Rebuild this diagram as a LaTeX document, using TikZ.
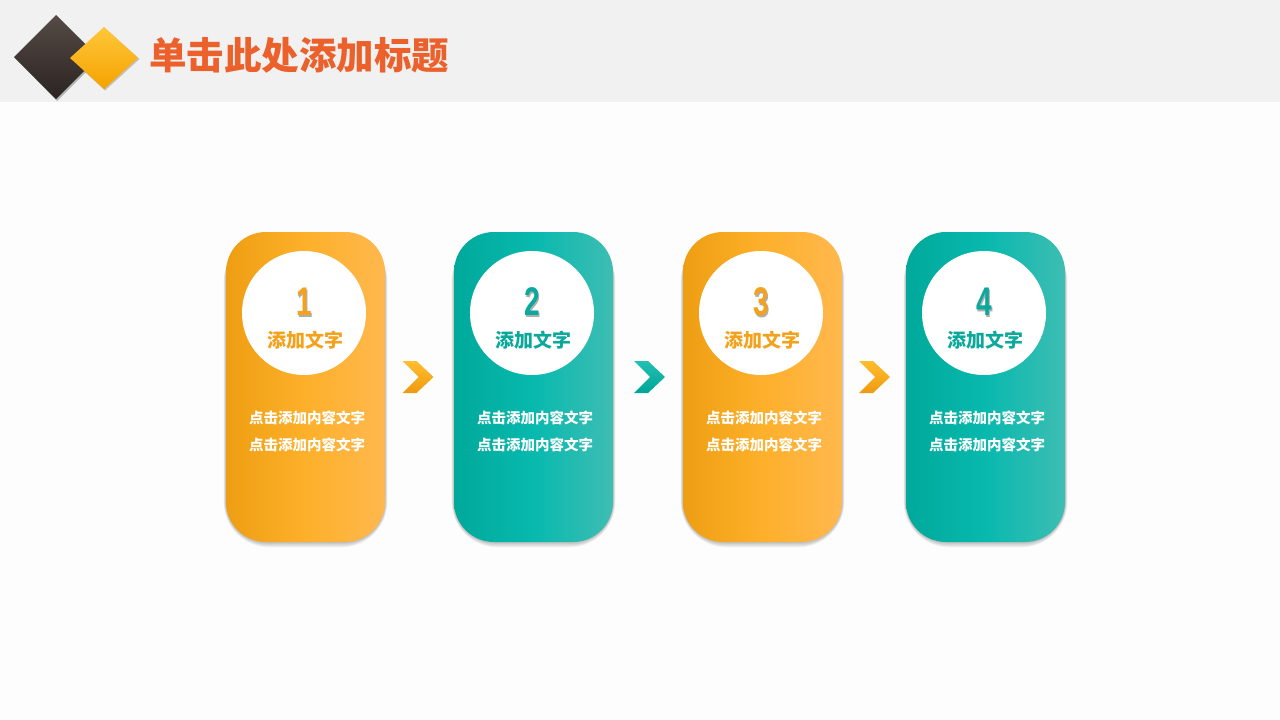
\documentclass[tikz,border=0pt]{standalone}
\usepackage{fontspec}
\newfontfamily\cjk{Noto Sans CJK SC}
\newfontfamily\numfont{Liberation Sans}
\usetikzlibrary{calc}
\definecolor{headgray}{HTML}{F1F1F1}
\definecolor{bgwhite}{HTML}{FDFDFD}
\definecolor{titleor}{HTML}{EC612B}
\definecolor{orL}{HTML}{EE9E12}
\definecolor{orM}{HTML}{FDB02A}
\definecolor{orR}{HTML}{FFB84F}
\definecolor{tlL}{HTML}{00A99A}
\definecolor{tlM}{HTML}{08B9AE}
\definecolor{tlR}{HTML}{3EBDB3}
\definecolor{ortext}{HTML}{F4A11C}
\definecolor{tltext}{HTML}{0BA89C}
\definecolor{darkA}{HTML}{554A46}
\definecolor{darkB}{HTML}{2B2422}
\definecolor{yelA}{HTML}{FFC73A}
\definecolor{yelB}{HTML}{F5A200}
\definecolor{chOrTop}{HTML}{FFBE2E}
\definecolor{chOrBot}{HTML}{EE9A10}
\definecolor{chTlTop}{HTML}{22BFB3}
\definecolor{chTlBot}{HTML}{00A596}
\tikzset{
  card/.style={rectangle, rounded corners=40pt, minimum width=159pt, minimum height=310pt, inner sep=0pt},
  orcard/.style={card, left color=orL, right color=orR, middle color=orM},
  tlcard/.style={card, left color=tlL, right color=tlR, middle color=tlM},
  shadowlayer/.style={fill=black, opacity=0.045},
  disc/.style={circle, fill=white, minimum size=124pt, inner sep=0pt},
  numtxt/.style={font=\numfont\bfseries\fontsize{40}{40}\selectfont, xscale=0.7, inner sep=0pt},
  headtxt/.style={font=\cjk\bfseries\fontsize{19}{19}\selectfont, inner sep=0pt},
  bodytxt/.style={font=\cjk\bfseries\fontsize{14.5}{14.5}\selectfont, text=white, inner sep=0pt},
}
\newcommand\mychev[3]{%
  \begin{scope}[shift={#1}]
    \shade[top color=#2, bottom color=#3] (-16,-16) -- (-2,-16) -- (15,0) -- (-2,16) -- (-16,16) -- (0,0) -- cycle;
  \end{scope}}
\newcommand\mystep[5]{% name, x, style, textcolor, digit
  \foreach \d in {1,2,3,4,5,6}{
    \fill[shadowlayer, rounded corners=40pt+\d pt] ({#2-79.5-0.4*\d},{236}) rectangle ({#2+79.5+0.4*\d},{542+0.9*\d});
  }
  \node[#3] (c#1) at (#2,387) {};
  \node[disc] (k#1) at ($(c#1.center)+(-1.5,-74)$) {};
  \node[numtxt, text=black!45, opacity=0.7] (s#1) at ($(k#1.center)+(1.5,-9)$) {#5};
  \node[numtxt, text=#4] (n#1) at ($(k#1.center)+(0,-11)$) {#5};
  \node[headtxt, text=#4] (h#1) at ($(k#1.center)+(1,27)$) {添加文字};
  \node[bodytxt] (b#1a) at ($(c#1.center)+(1.5,31)$) {点击添加内容文字};
  \node[bodytxt] (b#1b) at ($(c#1.center)+(1.5,58)$) {点击添加内容文字};
}
\begin{document}
\begin{tikzpicture}[x=1pt,y=-1pt]
\useasboundingbox (0,0) rectangle (1280,720);
\fill[bgwhite] (0,0) rectangle (1280,720);
\fill[headgray] (0,0) rectangle (1280,102);
% logo diamonds
\fill[black, opacity=0.25] (57,16) -- (100,58) -- (57,101) -- (15,58) -- cycle;
\shade[top color=darkA, bottom color=darkB]
  (56,15) -- (98,57) -- (56,99) -- (14,57) -- cycle;
\fill[black, opacity=0.2] (105,28) -- (139.5,59) -- (105,90.5) -- (71,59) -- cycle;
\shade[top color=yelA, bottom color=yelB]
  (104,27) -- (138,58) -- (104,89) -- (70,58) -- cycle;
\node[anchor=west, inner sep=0pt, text=titleor, font=\cjk\bfseries\fontsize{37.5}{37.5}\selectfont] (title) at (149,55) {单击此处添加标题};
% cards
\mystep{1}{305.5}{orcard}{ortext}{1}
\mystep{2}{533.5}{tlcard}{tltext}{2}
\mystep{3}{762.5}{orcard}{ortext}{3}
\mystep{4}{985.5}{tlcard}{tltext}{4}
% chevrons
\coordinate (v1) at ($(c1.east)!0.5!(c2.west)+(-1,-10)$);
\coordinate (v2) at ($(c2.east)!0.5!(c3.west)+(2,-10)$);
\coordinate (v3) at ($(c3.east)!0.5!(c4.west)+(1,-10)$);
\mychev{(v1)}{chOrTop}{chOrBot}
\mychev{(v2)}{chTlTop}{chTlBot}
\mychev{(v3)}{chOrTop}{chOrBot}
\end{tikzpicture}
\end{document}
